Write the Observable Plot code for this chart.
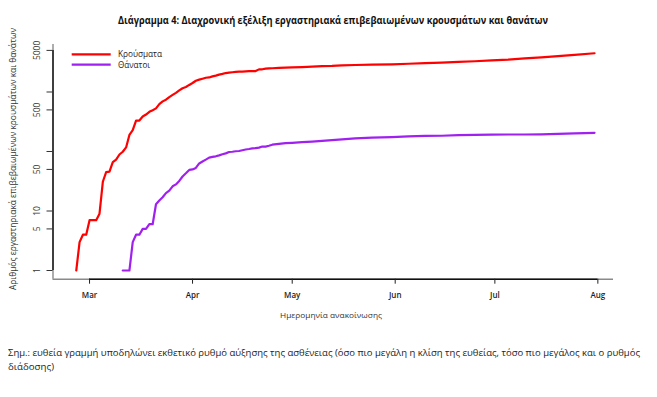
<!DOCTYPE html>
<html><head><meta charset="utf-8">
<script src="https://cdn.jsdelivr.net/npm/d3@7"></script>
<script src="https://cdn.jsdelivr.net/npm/@observablehq/plot@0.6"></script>
<style>
html,body{margin:0;padding:0;background:#fff;}
body{width:657px;height:397px;position:relative;overflow:hidden;font-family:"Open Sans",sans-serif;}
#title{position:absolute;left:0;top:0;}
#chart{position:absolute;left:0;top:36px;}
#caption{position:absolute;left:0;top:336px;}
</style></head><body>
<svg id="title" width="657" height="36"></svg>
<div id="chart"></div>
<svg id="caption" width="657" height="50"></svg>
<script>
const titleText = "Διάγραμμα 4: Διαχρονική εξέλιξη εργαστηριακά επιβεβαιωμένων κρουσμάτων και θανάτων";
const yTitle = "Αριθμός εργαστηριακά επιβεβαιωμένων κρουσμάτων και θανάτων";
const xTitle = "Ημερομηνία ανακοίνωσης";
const captionLines = ["Σημ.: ευθεία γραμμή υποδηλώνει εκθετικό ρυθμό αύξησης της ασθένειας (όσο πιο μεγάλη η κλίση της ευθείας, τόσο πιο μεγάλος και ο ρυθμός", "διάδοσης)"];
const seriesNames = ["Κρούσματα", "Θάνατοι"];
const seriesColors = ["#ff0000", "#a020f0"];

const casesDates = ["2020-02-26","2020-02-27","2020-02-28","2020-02-29","2020-03-01","2020-03-02","2020-03-03","2020-03-04","2020-03-05","2020-03-06","2020-03-07","2020-03-08","2020-03-09","2020-03-10","2020-03-11","2020-03-12","2020-03-13","2020-03-14","2020-03-15","2020-03-16","2020-03-17","2020-03-18","2020-03-19","2020-03-20","2020-03-21","2020-03-22","2020-03-23","2020-03-24","2020-03-25","2020-03-26","2020-03-27","2020-03-28","2020-03-29","2020-03-30","2020-03-31","2020-04-01","2020-04-02","2020-04-03","2020-04-04","2020-04-05","2020-04-06","2020-04-07","2020-04-08","2020-04-09","2020-04-10","2020-04-11","2020-04-12","2020-04-13","2020-04-14","2020-04-15","2020-04-16","2020-04-17","2020-04-18","2020-04-19","2020-04-20","2020-04-21","2020-04-22","2020-04-23","2020-04-24","2020-04-25","2020-04-27","2020-04-29","2020-05-01","2020-05-04","2020-05-07","2020-05-10","2020-05-13","2020-05-16","2020-05-20","2020-05-25","2020-05-31","2020-06-05","2020-06-10","2020-06-15","2020-06-20","2020-06-25","2020-06-30","2020-07-05","2020-07-10","2020-07-15","2020-07-20","2020-07-25","2020-07-31"];
const casesValues = [1,3,4,4,7,7,7,9,31,45,46,66,73,89,99,117,190,228,331,331,387,418,464,495,530,624,695,743,821,892,966,1061,1156,1212,1314,1415,1544,1613,1673,1735,1755,1832,1884,1955,2011,2081,2114,2145,2170,2192,2207,2224,2235,2235,2245,2401,2408,2463,2490,2506,2534,2576,2591,2626,2663,2710,2744,2810,2840,2878,2915,2980,3049,3121,3203,3287,3409,3511,3672,3826,4007,4193,4477];

const deathsDates = ["2020-03-11","2020-03-12","2020-03-13","2020-03-14","2020-03-15","2020-03-16","2020-03-17","2020-03-18","2020-03-19","2020-03-20","2020-03-21","2020-03-22","2020-03-23","2020-03-24","2020-03-25","2020-03-26","2020-03-27","2020-03-28","2020-03-29","2020-03-30","2020-03-31","2020-04-01","2020-04-02","2020-04-03","2020-04-04","2020-04-05","2020-04-06","2020-04-07","2020-04-08","2020-04-09","2020-04-10","2020-04-11","2020-04-12","2020-04-13","2020-04-14","2020-04-15","2020-04-16","2020-04-17","2020-04-18","2020-04-19","2020-04-20","2020-04-21","2020-04-22","2020-04-23","2020-04-24","2020-04-25","2020-04-27","2020-04-29","2020-05-01","2020-05-04","2020-05-07","2020-05-10","2020-05-13","2020-05-16","2020-05-20","2020-05-25","2020-05-31","2020-06-05","2020-06-10","2020-06-15","2020-06-20","2020-06-25","2020-06-30","2020-07-05","2020-07-10","2020-07-15","2020-07-20","2020-07-25","2020-07-31"];
const deathsValues = [1,1,1,3,4,4,5,5,6,6,13,15,17,20,22,26,28,32,38,43,49,50,53,63,68,73,79,81,83,86,90,93,98,99,101,102,105,108,110,113,114,116,121,121,125,130,134,138,140,144,147,151,155,160,166,171,175,180,183,184,188,190,192,193,193,194,197,202,206];

const yTicks = [1,5,10,50,100,500,1000,5000];
const yLabels = [1,5,10,50,500,5000];
const monthTicks = ["2020-03-01","2020-04-01","2020-05-01","2020-06-01","2020-07-01","2020-08-01"];

const parse = d3.utcParse("%Y-%m-%d");
const cases = casesDates.map((d, i) => ({date: parse(d), value: casesValues[i]}));
const deaths = deathsDates.map((d, i) => ({date: parse(d), value: deathsValues[i]}));
const monthDates = monthTicks.map(parse);

const xDomain = [new Date(Date.UTC(2020,1,19)), new Date(Date.UTC(2020,7,5,17))];
const yDomain = [Math.pow(10,-0.146), Math.pow(10,3.798)];
const W = 657, H = 290;

const plot = Plot.plot({
  width: W, height: H,
  marginTop: 8, marginBottom: 47.3, marginLeft: 52.5, marginRight: 44,
  style: {fontFamily: "'Open Sans', sans-serif", background: "white", overflow: "visible"},
  x: {type: "utc", domain: xDomain, label: null},
  y: {type: "log", domain: yDomain, label: null},
  marks: [
    Plot.ruleX([xDomain[0]], {stroke: "#8a8a8a", strokeWidth: 1.4}),
    Plot.ruleY([yDomain[0]], {stroke: "#8a8a8a", strokeWidth: 1.4}),
    Plot.ruleX([xDomain[0]], {y1: () => yTicks[0], y2: () => yTicks[yTicks.length-1], stroke: "#111", strokeWidth: 1.4}),
    Plot.ruleY([yDomain[0]], {x1: () => monthDates[0], x2: () => monthDates[monthDates.length-1], stroke: "#111", strokeWidth: 1.4}),
    Plot.axisY({ticks: yTicks, tickSize: 6, tickFormat: () => "", stroke: "#333", label: null}),
    Plot.axisX({ticks: monthDates, tickSize: 5, tickPadding: 8, tickFormat: d3.utcFormat("%b"), fontSize: 8, fontWeight: 600, fill: "#222", stroke: "#222", label: null}),
    Plot.text(yLabels, {y: d => d, frameAnchor: "left", dx: -15.5, rotate: -90, text: d => String(d), fontSize: 8.5, fill: "#333", textAnchor: "middle", lineAnchor: "middle"}),
    Plot.lineY(deaths, {x: "date", y: "value", stroke: seriesColors[1], strokeWidth: 2.2}),
    Plot.lineY(cases, {x: "date", y: "value", stroke: seriesColors[0], strokeWidth: 2.2})
  ]
});
document.getElementById("chart").appendChild(plot);

const svg = d3.select(plot);
// legend
const leg = [{y: 18.3, w: 44}, {y: 28.7, w: 32}];
leg.forEach((l, i) => {
  svg.append("line").attr("x1", 71.7).attr("x2", 110.7).attr("y1", l.y).attr("y2", l.y)
    .attr("stroke", seriesColors[i]).attr("stroke-width", 2.2);
  svg.append("text").attr("x", 118).attr("y", l.y).attr("dy", "0.35em").attr("text-anchor", "start")
    .attr("font-size", 8.4).attr("fill", "#222").attr("textLength", l.w).attr("lengthAdjust", "spacingAndGlyphs")
    .text(seriesNames[i]);
});
// axis titles
svg.append("text").attr("transform", "translate(13,123) rotate(-90)")
  .attr("text-anchor", "middle").attr("dy", "0.35em").attr("font-size", 8.5).attr("fill", "#333")
  .attr("textLength", 262).attr("lengthAdjust", "spacingAndGlyphs").text(yTitle);
svg.append("text").attr("x", 331).attr("y", 279).attr("dy", "0.35em")
  .attr("text-anchor", "middle").attr("font-size", 8).attr("fill", "#333")
  .attr("textLength", 102).attr("lengthAdjust", "spacingAndGlyphs").text(xTitle);

// title
d3.select("#title").append("text").attr("x", 333).attr("y", 24)
  .attr("text-anchor", "middle").attr("font-family", "'Open Sans', sans-serif")
  .attr("font-weight", "bold").attr("font-size", 10.5).attr("fill", "#111")
  .attr("textLength", 430).attr("lengthAdjust", "spacingAndGlyphs").text(titleText);

// caption
const cap = d3.select("#caption");
cap.append("text").attr("x", 8).attr("y", 19.5).attr("font-family", "'Open Sans', sans-serif")
  .attr("font-size", 9.6).attr("fill", "#222").attr("textLength", 632).attr("lengthAdjust", "spacingAndGlyphs")
  .text(captionLines[0]);
cap.append("text").attr("x", 8).attr("y", 33.5).attr("font-family", "'Open Sans', sans-serif")
  .attr("font-size", 9.6).attr("fill", "#222").attr("textLength", 46).attr("lengthAdjust", "spacingAndGlyphs")
  .text(captionLines[1]);
</script></body></html>
